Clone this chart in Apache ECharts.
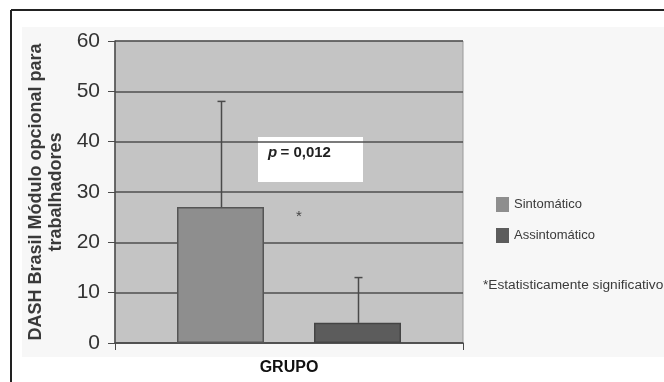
<!DOCTYPE html>
<html>
<head>
<meta charset="utf-8">
<script src="https://cdn.jsdelivr.net/npm/echarts@6/dist/echarts.min.js"></script>
<style>
  html, body { margin: 0; padding: 0; background: #ffffff; }
  #chart { width: 664px; height: 382px; }
</style>
</head>
<body>
<div id="chart"></div>
<script>
// DASH Brasil – módulo opcional para trabalhadores, por grupo
const categories = ['GRUPO'];
const seriesNames = ['Sintomático', 'Assintomático'];
const meanValues = [27, 4];      // médias
const errorValues = [21, 9];     // desvio (barra de erro superior)
const yTicks = { min: 0, max: 60, step: 10 };
const pValueText = '0,012';
const footnote = '*Estatisticamente significativo';

const barColors = ['#8e8e8e', '#5c5c5c'];
const barWidth = 87;
const barGapPx = 50;

const chart = echarts.init(document.getElementById('chart'), null, { renderer: 'canvas' });

// horizontal offset of each bar centre from the category centre
const offsets = [-(barWidth + barGapPx) / 2, (barWidth + barGapPx) / 2];

function errorSeries(idx) {
  return {
    type: 'custom',
    name: 'err' + idx,
    z: 5,
    silent: true,
    data: [[0, meanValues[idx], meanValues[idx] + errorValues[idx]]],
    renderItem: function (params, api) {
      const base = api.coord([api.value(0), api.value(1)]);
      const top = api.coord([api.value(0), api.value(2)]);
      const x = Math.round(base[0] + offsets[idx]) + 0.5;
      const style = { stroke: '#4a4a4a', lineWidth: 1.5 };
      return {
        type: 'group',
        children: [
          { type: 'line', shape: { x1: x, y1: base[1], x2: x, y2: top[1] }, style: style },
          { type: 'line', shape: { x1: x - 4, y1: top[1], x2: x + 4, y2: top[1] }, style: style }
        ]
      };
    }
  };
}

const option = {
  backgroundColor: '#ffffff',
  animation: false,
  textStyle: { fontFamily: 'Liberation Sans, Arial, sans-serif' },
  grid: {
    left: 115, top: 41, right: 201, bottom: 39,
    show: true, backgroundColor: '#c4c4c4', borderWidth: 1, borderColor: '#9a9a9a'
  },
  legend: {
    orient: 'vertical',
    left: 496, top: 197,
    padding: 0,
    itemWidth: 13, itemHeight: 15, itemGap: 16,
    icon: 'rect',
    data: seriesNames,
    itemStyle: { borderWidth: 0 },
    textStyle: { fontSize: 13, color: '#3a3a3a' }
  },
  xAxis: {
    type: 'category',
    data: categories,
    axisLine: { show: true, lineStyle: { color: '#4a4a4a', width: 1.5 } },
    axisTick: { show: true, length: 7, lineStyle: { color: '#4a4a4a' } },
    axisLabel: { margin: 17, fontSize: 16, fontWeight: 'bold', color: '#111' }
  },
  yAxis: {
    type: 'value',
    min: yTicks.min, max: yTicks.max, interval: yTicks.step,
    name: 'DASH Brasil Módulo opcional para\ntrabalhadores',
    nameLocation: 'middle',
    nameGap: 47,
    nameRotate: 90,
    nameTextStyle: { fontSize: 18, fontWeight: 'bold', color: '#3a3a3a', lineHeight: 20, align: 'center' },
    axisLine: { show: true, lineStyle: { color: '#4a4a4a', width: 1.5 } },
    axisTick: { show: true, length: 7, lineStyle: { color: '#4a4a4a' } },
    axisLabel: { fontSize: 21, color: '#333', margin: 15 },
    splitLine: { show: true, lineStyle: { color: '#4f4f4f', width: 1.5 } }
  },
  series: [
    {
      type: 'bar', name: seriesNames[0],
      data: [meanValues[0]],
      barWidth: barWidth,
      barGap: (barGapPx / barWidth * 100) + '%',
      itemStyle: { color: barColors[0], borderColor: '#555', borderWidth: 1.5 }
    },
    {
      type: 'bar', name: seriesNames[1],
      data: [meanValues[1]],
      barWidth: barWidth,
      itemStyle: { color: barColors[1], borderColor: '#444', borderWidth: 1.5 }
    },
    errorSeries(0),
    errorSeries(1)
  ],
  graphic: [
    // page frame
    { type: 'line', z: -10, shape: { x1: 11, y1: 10, x2: 664, y2: 10 }, style: { stroke: '#222', lineWidth: 2 } },
    { type: 'line', z: -10, shape: { x1: 11, y1: 10, x2: 11, y2: 382 }, style: { stroke: '#222', lineWidth: 2 } },
    // chart area
    { type: 'rect', z: -20, shape: { x: 22, y: 27, width: 642, height: 330 }, style: { fill: '#f7f7f7' } },
    // p-value box
    {
      type: 'group', z: 100,
      children: [
        { type: 'rect', shape: { x: 258, y: 137, width: 105, height: 45 }, style: { fill: '#ffffff' } },
        {
          type: 'text', left: 268, top: 145,
          style: {
            text: '{i|p} {b|= ' + pValueText + '}',
            rich: {
              i: { fontStyle: 'italic', fontWeight: 'bold', fontSize: 15, fill: '#222', fontFamily: 'Liberation Sans, Arial, sans-serif' },
              b: { fontWeight: 'bold', fontSize: 15, fill: '#222', fontFamily: 'Liberation Sans, Arial, sans-serif' }
            }
          }
        }
      ]
    },
    // significance marker
    { type: 'text', z: 100, left: 296, top: 209, style: { text: '*', fontSize: 15, fill: '#444', fontFamily: 'Liberation Sans, Arial, sans-serif' } },
    // footnote
    { type: 'text', z: 100, left: 483, top: 278, style: { text: footnote, fontSize: 13.7, fill: '#3a3a3a', fontFamily: 'Liberation Sans, Arial, sans-serif' } }
  ]
};

chart.setOption(option);
</script>
</body>
</html>
